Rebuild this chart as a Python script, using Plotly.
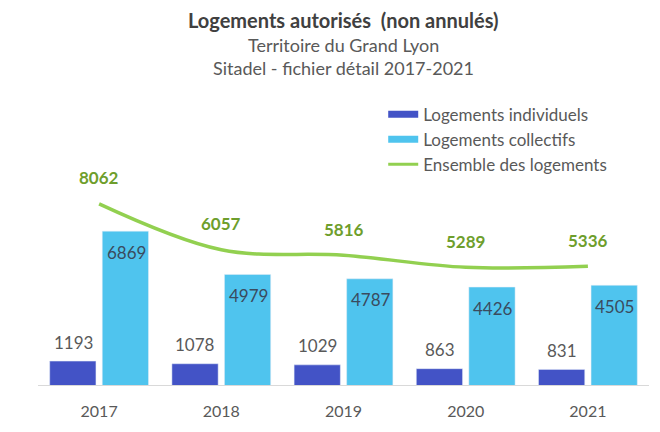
import plotly.graph_objects as go

years = ["2017", "2018", "2019", "2020", "2021"]
individuels = [1193, 1078, 1029, 863, 831]
collectifs = [6869, 4979, 4787, 4426, 4505]
ensemble = [8062, 6057, 5816, 5289, 5336]

BLEU_FONCE = "#4353C6"
BLEU_CLAIR = "#4FC4EE"
VERT = "#92D050"
VERT_TEXTE = "#6E9E2C"
GRIS = "#595959"
FONT = "Lato, 'Open Sans', sans-serif"

fig = go.Figure()

fig.add_trace(go.Bar(
    x=years, y=individuels, name="Logements individuels",
    marker_color=BLEU_FONCE, showlegend=False,
))
fig.add_trace(go.Bar(
    x=years, y=collectifs, name="Logements collectifs",
    marker_color=BLEU_CLAIR, showlegend=False,
))
fig.add_trace(go.Scatter(
    x=years, y=ensemble, name="Ensemble des logements",
    mode="lines", line=dict(color=VERT, width=3.5, shape="spline", smoothing=1),
    showlegend=False,
))

# entrées de légende (symboles larges comme dans l'original)
for nom, couleur, ep in [("Logements individuels", BLEU_FONCE, 7),
                         ("Logements collectifs", BLEU_CLAIR, 7),
                         ("Ensemble des logements", VERT, 3)]:
    fig.add_trace(go.Scatter(
        x=[years[0]], y=[None], mode="lines", name=nom,
        line=dict(color=couleur, width=ep),
    ))

# étiquettes de données (x = index de catégorie)
for i in range(len(years)):
    fig.add_annotation(x=i, y=individuels[i], text=str(individuels[i]),
                       showarrow=False, xshift=-26, yshift=19,
                       font=dict(size=17, color=GRIS))
    fig.add_annotation(x=i, y=collectifs[i], text=str(collectifs[i]),
                       showarrow=False, xshift=27, yshift=-21,
                       font=dict(size=17, color="#3A4B5E"))
    fig.add_annotation(x=i, y=ensemble[i], text=f"<b>{ensemble[i]}</b>",
                       showarrow=False, yshift=26,
                       font=dict(size=17, color=VERT_TEXTE))

fig.add_annotation(x=0.5, xref="paper", y=1.281, yref="paper", yanchor="middle",
                   text="<b>Logements autorisés  (non annulés)</b>",
                   showarrow=False, font=dict(size=20, color="#404040"))
fig.add_annotation(x=0.5, xref="paper", y=1.193, yref="paper", yanchor="middle",
                   text="Territoire du Grand Lyon",
                   showarrow=False, font=dict(size=18, color=GRIS))
fig.add_annotation(x=0.5, xref="paper", y=1.112, yref="paper", yanchor="middle",
                   text="Sitadel - fichier détail 2017-2021",
                   showarrow=False, font=dict(size=18, color=GRIS))

fig.update_layout(
    width=660, height=432,
    margin=dict(l=30, r=19, t=92, b=55),
    barmode="group", bargap=0.14, bargroupgap=0.12,
    plot_bgcolor="white", paper_bgcolor="white",
    font=dict(family=FONT, color=GRIS, size=16),
    legend=dict(x=0.565, y=1.012, xanchor="left", yanchor="top",
                font=dict(size=17, color=GRIS), tracegroupgap=0,
                bgcolor="rgba(0,0,0,0)"),
)
fig.update_xaxes(type="category", categoryorder="array", categoryarray=years,
                 range=[-0.5, len(years) - 0.5],
                 showline=True, linecolor="#D9D9D9",
                 linewidth=1, tickfont=dict(size=16, color=GRIS),
                 ticklabelstandoff=12,
                 ticks="", showgrid=False)
fig.update_yaxes(visible=False, range=[150, 12595])

fig.write_html("out.html")
